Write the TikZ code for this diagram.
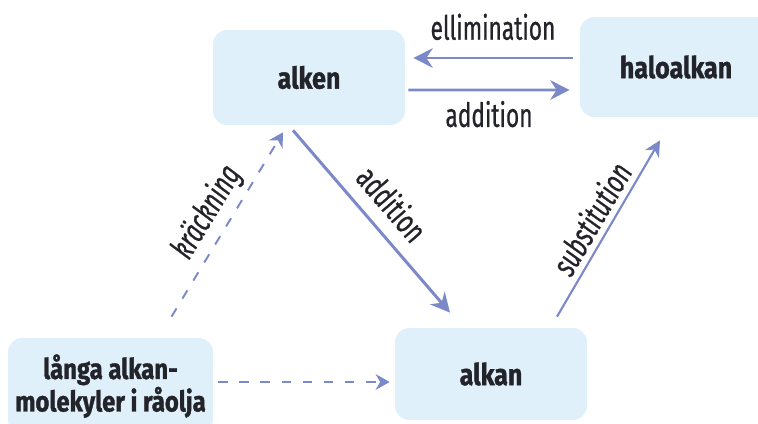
\documentclass[tikz,border=0pt]{standalone}
\usepackage{fontspec}
\setmainfont{Fira Sans}
\newfontfamily\namefont[FakeStretch=0.84, BoldFeatures={FakeBold=1.2}]{Fira Sans}
\newfontfamily\stepfont[FakeStretch=0.68, FakeBold=0.6]{Fira Sans}
\usepackage{tikz}
\usetikzlibrary{calc,positioning,arrows.meta}

\definecolor{boxblue}{RGB}{223,240,250}
\definecolor{arrowblue}{RGB}{124,137,200}
\definecolor{inkgray}{RGB}{35,35,42}

\tikzset{
    compound/.style={fill=boxblue, rounded corners=8pt, text=inkgray, align=center,
        font=\namefont\bfseries\fontsize{17}{19}\selectfont, inner sep=0pt},
    reaction/.style={draw=arrowblue, line width=1.7pt, -{Stealth[length=11pt,width=11pt]}},
    cracking/.style={draw=arrowblue, line width=1.1pt, dash pattern=on 5.5pt off 6.5pt,
        -{Stealth[length=8pt,width=9pt]}},
    steplabel/.style={text=inkgray, font=\stepfont\fontsize{19}{21}\selectfont}
}

\begin{document}
\begin{tikzpicture}[x=0.02cm, y=-0.02cm]
    \useasboundingbox (0,0) rectangle (758,423);

    \node[compound, minimum width=3.84cm, minimum height=1.9cm] (alken) at (309,77.5) {alken};
    \node[compound, minimum width=3.84cm, minimum height=2cm] (halo) at (676,67) {haloalkan};
    \node[compound, minimum width=3.84cm, minimum height=1.84cm] (alkan) at (491,374) {alkan};
    \node[compound, minimum width=4.1cm, minimum height=1.92cm,
        font=\namefont\bfseries\fontsize{16.2}{18.5}\selectfont] (langa) at (110.5,386) {långa alkan-\\molekyler i råolja};

    % alken <-> haloalkan
    \draw[reaction] ($(halo.west)+(-7,-9)$) -- ($(alken.east)+(8,-19.5)$)
        node[steplabel, above=6pt, midway]{ellimination};
    \draw[reaction] ($(alken.east)+(3,12.5)$) -- ($(halo.west)+(-10,23)$)
        node[steplabel, below=2pt, midway]{addition};

    \draw[reaction] ($(alken.south)+(-16,5)$) -- ($(alkan.north)+(-41,-15)$)
        node[steplabel, above=4pt, midway, sloped]{addition};
    \draw[reaction, line width=1.2pt, -{Stealth[length=9pt,width=9pt]}] ($(alkan.north)+(66,-11)$) -- ($(halo.south)+(-16,23)$)
        node[steplabel, above, midway, sloped]{\itshape substitution};

    % from crude oil
    \draw[cracking] ($(langa.north)+(61,-21)$) -- ($(alken.south)+(-26,7)$)
        node[steplabel, above, midway, sloped]{\itshape kräckning};
    \draw[cracking] ($(langa.east)+(5,-4)$) -- ($(alkan.west)+(-5,8)$);
\end{tikzpicture}
\end{document}
